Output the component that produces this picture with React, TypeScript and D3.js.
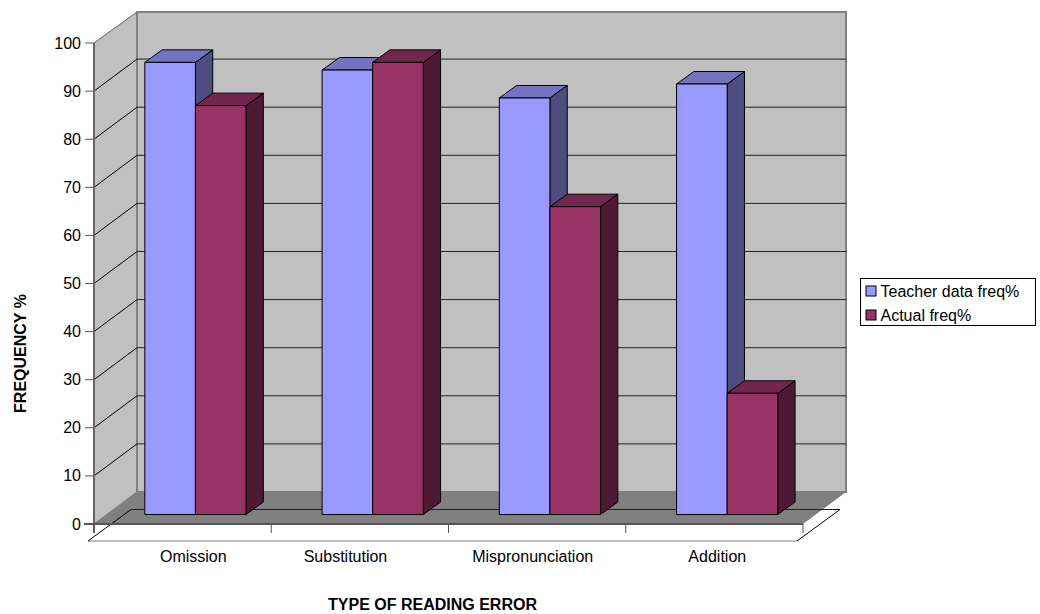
import React from "react";
import * as d3 from "d3";

const categories = ["Omission", "Substitution", "Mispronunciation", "Addition"];
const teacherValues = [94, 92.4, 86.6, 89.5];
const actualValues = [85, 94, 64, 25.2];
const yTicks = [0, 10, 20, 30, 40, 50, 60, 70, 80, 90, 100];
const seriesNames = ["Teacher data freq%", "Actual freq%"];
const labelShift = [10.7, -14.4, -4.4, 2.9];

const FONT = "'Liberation Sans', Arial, sans-serif";
const W = 1040, H = 614;
const x0 = 94, x1 = 803, yBase = 524, yTop = 43;
const depthX = 43, depthY = 32;
const barDx = 12.8, barDy = 9.5;
const barDepthX = 17.3, barDepthY = 12.5;
const barW = 50.6;

const y = d3.scaleLinear().domain([0, 100]).range([yBase, yTop]);
const xBand = d3.scaleBand<string>().domain(categories).range([x0, x1]);
const colors = [
  { front: "#9999FF", top: "#7373BF", side: "#4D4D80" },
  { front: "#993366", top: "#73264D", side: "#4D1933" },
];
const pts = (p: number[][]) => p.map((q) => q.join(",")).join(" ");

function Bar({ x, value, c }: { x: number; value: number; c: typeof colors[0] }) {
  const bottom = y(0) - barDy;
  const top = y(value) - barDy;
  const r = x + barW;
  return (
    <g stroke="#000" strokeWidth={1} strokeLinejoin="round">
      <polygon fill={c.side} points={pts([[r, top], [r + barDepthX, top - barDepthY], [r + barDepthX, bottom - barDepthY], [r, bottom]])} />
      <polygon fill={c.top} points={pts([[x, top], [x + barDepthX, top - barDepthY], [r + barDepthX, top - barDepthY], [r, top]])} />
      <rect x={x} y={top} width={barW} height={bottom - top} fill={c.front} />
    </g>
  );
}

export default function App() {
  const tickXs = [...categories.map((c) => xBand(c)!), x1];
  return (
    <svg width={W} height={H} style={{ position: "absolute", left: 0, top: 0, background: "#fff" }} fontFamily={FONT}>
      {/* side wall */}
      <polygon fill="#C0C0C0" stroke="#808080" strokeWidth={1}
        points={pts([[x0, y(100)], [x0 + depthX, y(100) - depthY + 1], [x0 + depthX, y(0) - depthY], [x0, y(0)]])} />
      {/* back wall */}
      <rect x={x0 + depthX} y={y(100) - depthY + 1} width={x1 - x0} height={y(0) - y(100) - 1} fill="#C0C0C0" stroke="#808080" strokeWidth={2} />
      {/* base slab */}
      <polygon fill="#fff" points={pts([[88, 541], [131, 510], [840, 510], [797, 541]])} />
      {/* floor */}
      <polygon fill="#808080" points={pts([[x0, y(0)], [x0 + depthX, y(0) - depthY], [x1 + depthX, y(0) - depthY], [x1, y(0)]])} />
      <line x1={131} y1={509.5} x2={840} y2={509.5} stroke="#222" strokeWidth={1} />
      <line x1={88} y1={541} x2={797} y2={541} stroke="#808080" strokeWidth={1} />
      <line x1={88} y1={541} x2={131} y2={509.5} stroke="#000" strokeWidth={1} />
      <line x1={797} y1={541} x2={840} y2={509.5} stroke="#000" strokeWidth={1} />
      {/* grid */}
      {yTicks.filter((t) => t > 0 && t < 100).map((t) => (
        <g key={t} stroke="#222" strokeWidth={1}>
          <line x1={x0} y1={y(t)} x2={x0 + depthX} y2={y(t) - depthY} stroke="#000" />
          <line x1={x0 + depthX} y1={y(t) - depthY} x2={x1 + depthX} y2={y(t) - depthY} />
        </g>
      ))}
      <line x1={x0} y1={y(100)} x2={x0 + depthX} y2={y(100) - depthY + 1} stroke="#808080" strokeWidth={1} />
      <line x1={x0} y1={y(0)} x2={x0 + depthX} y2={y(0) - depthY} stroke="#808080" strokeWidth={1} />
      {/* axes */}
      <line x1={x0} y1={y(100)} x2={x0} y2={y(0) + 9} stroke="#666" strokeWidth={2} />
      <line x1={x0 - 10} y1={y(0)} x2={x1} y2={y(0)} stroke="#555" strokeWidth={2} />
      {yTicks.map((t) => (
        <g key={t}>
          <line x1={x0 - 9} y1={y(t)} x2={x0} y2={y(t)} stroke="#555" strokeWidth={1} />
          <text x={x0 - 13} y={y(t) + 5.5} textAnchor="end" fontSize={16} fill="#000">{t}</text>
        </g>
      ))}
      {tickXs.map((tx, i) => (
        <line key={i} x1={tx} y1={y(0)} x2={tx} y2={y(0) + 9} stroke="#555" strokeWidth={1} />
      ))}
      {/* bars */}
      {categories.map((cat, i) => {
        const mid = xBand(cat)! + xBand.bandwidth() / 2;
        const cx = mid + barDx;
        return (
          <g key={cat}>
            <Bar x={cx - barW} value={teacherValues[i]} c={colors[0]} />
            <Bar x={cx} value={actualValues[i]} c={colors[1]} />
            <text x={mid + labelShift[i]} y={562} textAnchor="middle" fontSize={16} fill="#000">{cat}</text>
          </g>
        );
      })}
      {/* axis titles */}
      <text x={432.5} y={609.5} textAnchor="middle" fontSize={16} fontWeight="bold" fill="#000">TYPE OF READING ERROR</text>
      <text transform="translate(25.5,353.5) rotate(-90)" textAnchor="middle" fontSize={16} fontWeight="bold" fill="#000">FREQUENCY %</text>
      {/* legend */}
      <rect x={860.5} y={278.5} width={175} height={47} fill="#fff" stroke="#000" strokeWidth={1} />
      {seriesNames.map((name, i) => (
        <g key={name}>
          <rect x={866} y={286 + i * 24} width={10} height={10} fill={colors[i].front} stroke="#000" strokeWidth={1} />
          <text x={880.5} y={296.5 + i * 24} fontSize={16} fill="#000">{name}</text>
        </g>
      ))}
    </svg>
  );
}
